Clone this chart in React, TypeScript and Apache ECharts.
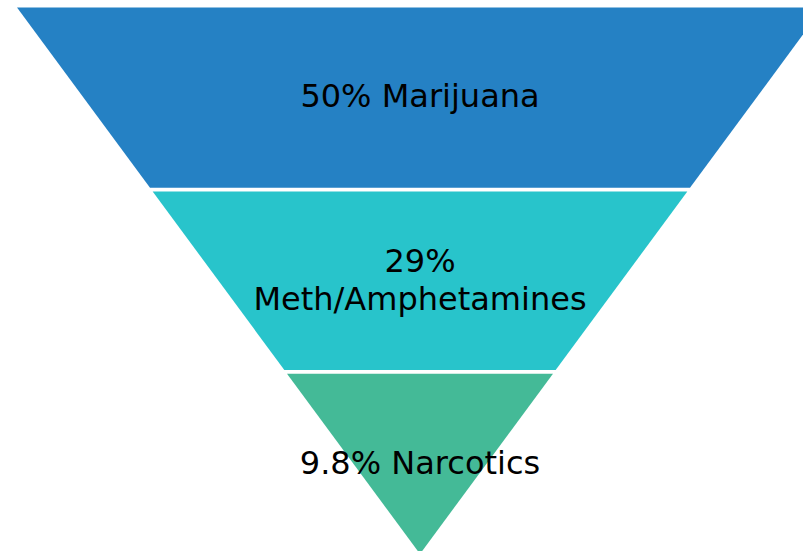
import React, { useEffect, useRef } from "react";
import * as echarts from "echarts";

const categories = ["Marijuana", "Meth/Amphetamines", "Narcotics"];
const values = [50, 29, 9.8];
const labelTexts = ["50% Marijuana", "29%\nMeth/Amphetamines", "9.8% Narcotics"];

const COLORS = ["#2581C4", "#28C4CB", "#44BA97"];
const LABEL_DY = [-3, -1, 0];

export default function App() {
  const ref = useRef<HTMLDivElement>(null);
  useEffect(() => {
    if (!ref.current) return;
    const chart = echarts.init(ref.current, undefined, { renderer: "svg" });
    const n = categories.length;
    const gapHalfPx = 1.8;
    chart.setOption({
      animation: false,
      backgroundColor: "#ffffff",
      grid: { left: 17, width: 806, top: 7.5, height: 546.5, containLabel: false },
      xAxis: { type: "value", min: -1, max: 1, show: false },
      yAxis: { type: "value", min: 0, max: n, show: false },
      series: [
        {
          type: "custom",
          coordinateSystem: "cartesian2d",
          data: categories.map((c, i) => ({ name: c, value: [i, values[i]] })),
          renderItem: (params: any, api: any) => {
            const idx = api.value(0);
            const pxPerUnit = api.size([0, 1])[1];
            const g = gapHalfPx / pxPerUnit;
            let lt = n - idx;
            let lb = n - idx - 1;
            if (idx > 0) lt -= g;
            if (idx < n - 1) lb += g;
            const pts = [
              api.coord([-lt / n, lt]),
              api.coord([lt / n, lt]),
              api.coord([lb / n, lb]),
              api.coord([-lb / n, lb]),
            ];
            const center = api.coord([0, n - idx - 0.5]);
            return {
              type: "group",
              children: [
                {
                  type: "polygon",
                  shape: { points: pts },
                  style: { fill: COLORS[idx] },
                },
                {
                  type: "text",
                  x: center[0],
                  y: center[1] + LABEL_DY[idx],
                  z2: 10,
                  style: {
                    text: labelTexts[idx],
                    fill: "#000000",
                    font: "32px 'DejaVu Sans'",
                    lineHeight: 38.5,
                    align: "center",
                    verticalAlign: "middle",
                  },
                },
              ],
            };
          },
        },
      ],
    });
    return () => chart.dispose();
  }, []);
  return (
    <div
      style={{
        position: "fixed",
        left: 0,
        top: 0,
        width: 803,
        height: 551,
        overflow: "hidden",
        background: "#ffffff",
      }}
    >
      <div ref={ref} style={{ width: 840, height: 570 }} />
    </div>
  );
}
